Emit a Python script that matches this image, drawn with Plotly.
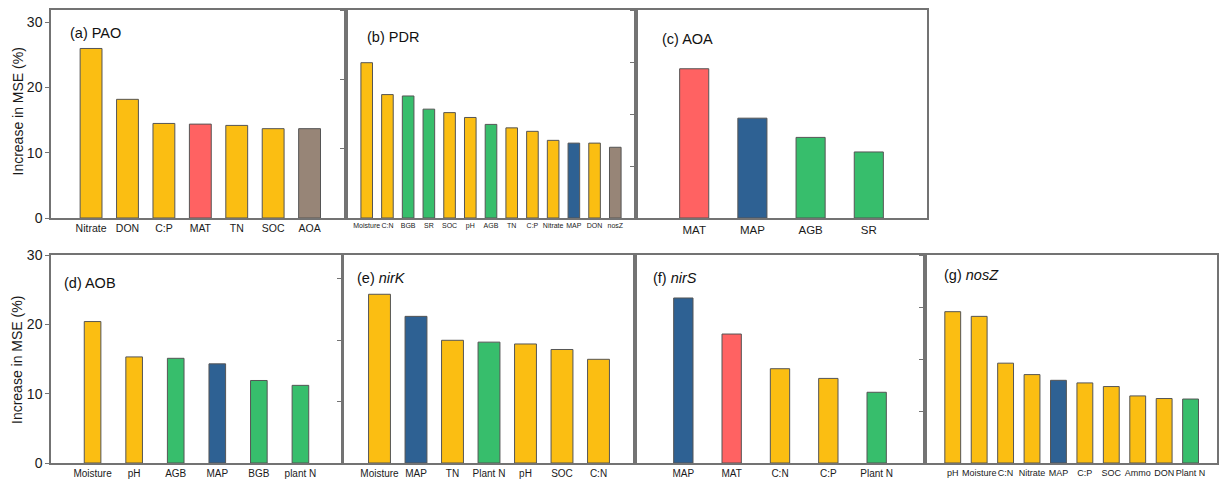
import plotly.graph_objects as go

# ---------------- data ----------------
pao_vars = ["Nitrate", "DON", "C:P", "MAT", "TN", "SOC", "AOA"]
pao_vals = [26.0, 18.2, 14.5, 14.4, 14.2, 13.7, 13.7]

pdr_vars = ["Moisture", "C:N", "BGB", "SR", "SOC", "pH", "AGB", "TN", "C:P", "Nitrate", "MAP", "DON", "nosZ"]
pdr_vals = [22.4, 17.8, 17.6, 15.7, 15.2, 14.5, 13.5, 13.0, 12.5, 11.2, 10.8, 10.8, 10.2]

aoa_vars = ["MAT", "MAP", "AGB", "SR"]
aoa_vals = [28.7, 19.2, 15.5, 12.7]

aob_vars = ["Moisture", "pH", "AGB", "MAP", "BGB", "plant N"]
aob_vals = [20.4, 15.3, 15.1, 14.3, 11.9, 11.2]

nirk_vars = ["Moisture", "MAP", "TN", "Plant N", "pH", "SOC", "C:N"]
nirk_vals = [27.5, 23.9, 20.0, 19.7, 19.4, 18.5, 16.9]

nirs_vars = ["MAP", "MAT", "C:N", "C:P", "Plant N"]
nirs_vals = [23.8, 18.6, 13.6, 12.2, 10.2]

nosz_vars = ["pH", "Moisture", "C:N", "Nitrate", "MAP", "C:P", "SOC", "Ammo", "DON", "Plant N"]
nosz_vals = [29.1, 28.2, 19.2, 17.0, 15.9, 15.4, 14.7, 12.9, 12.4, 12.3]

# variable group (encoded by colour)
var_group = {
    "Nitrate": "soil", "DON": "soil", "C:P": "soil", "TN": "soil", "SOC": "soil",
    "Moisture": "soil", "C:N": "soil", "pH": "soil", "Ammo": "soil",
    "MAT": "temperature", "MAP": "precipitation",
    "AGB": "plant", "BGB": "plant", "SR": "plant", "Plant N": "plant", "plant N": "plant",
    "AOA": "microbe", "nosZ": "microbe",
}

# ---------------- style ----------------
group_color = {
    "soil": "#FBBE12",
    "temperature": "#FF6262",
    "precipitation": "#2E6193",
    "plant": "#37BE6C",
    "microbe": "#978577",
}
W, H = 1219, 483
FONT = "Arial, Liberation Sans, sans-serif"
AXC = "#737373"

def px_x(p):
    return p / W

def px_y(p):
    return 1 - p / H

TOP = (10, 218)
BOT = (255, 463)

panels = [
    dict(title="(a) PAO", cats=pao_vars, vals=pao_vals, xs=(51, 346), ys=TOP, yr=[0, 31.9],
         xr=[-1.1, 7.0], bw=0.6, fs=10.5, ylab=True, yticks=True, tpos=(68, 33)),
    dict(title="(b) PDR", cats=pdr_vars, vals=pdr_vals, xs=(346, 636), ys=TOP, yr=[0, 30],
         xr=[-1, 13], bw=0.56, fs=7, ylab=False, yticks=True, tpos=(365, 37)),
    dict(title="(c) AOA", cats=aoa_vars, vals=aoa_vals, xs=(636, 927), ys=TOP, yr=[0, 40],
         xr=[-1, 4], bw=0.5, fs=11.5, ylab=False, yticks=True, tpos=(660, 39)),
    dict(title="(d) AOB", cats=aob_vars, vals=aob_vals, xs=(51, 342), ys=BOT, yr=[0, 30],
         xr=[-1, 6], bw=0.4, fs=10, ylab=True, yticks=True, tpos=(62, 283)),
    dict(title="(e) <i>nirK</i>", cats=nirk_vars, vals=nirk_vals, xs=(343, 635), ys=BOT, yr=[0, 33.9],
         xr=[-1, 7], bw=0.6, fs=10, ylab=False, yticks=True, tpos=(355, 278)),
    dict(title="(f) <i>nirS</i>", cats=nirs_vars, vals=nirs_vals, xs=(635, 925), ys=BOT, yr=[0, 30],
         xr=[-1, 5], bw=0.4, fs=10, ylab=False, yticks=False, tpos=(651, 278)),
    dict(title="(g) <i>nosZ</i>", cats=nosz_vars, vals=nosz_vals, xs=(925, 1217), ys=BOT, yr=[0, 40],
         xr=[-1.05, 10], bw=0.6, fs=9, ylab=False, yticks=True, tpos=(942, 275)),
]

fig = go.Figure()
annotations = []
for i, p in enumerate(panels):
    n = "" if i == 0 else str(i + 1)
    fig.add_trace(go.Bar(
        x=p["cats"], y=p["vals"],
        xaxis="x" + n, yaxis="y" + n,
        width=p["bw"],
        marker=dict(color=[group_color[var_group[c]] for c in p["cats"]],
                    line=dict(color="#555555", width=1)),
        showlegend=False, hoverinfo="x+y",
    ))
    fig.layout["xaxis" + n] = dict(
        domain=[px_x(p["xs"][0]), px_x(p["xs"][1])],
        anchor="y" + n, type="category", range=p["xr"],
        showline=True, mirror=True, linecolor=AXC, linewidth=1.5,
        ticks="", showgrid=False, zeroline=False, automargin=False, tickangle=0,
        tickfont=dict(family=FONT, size=p["fs"], color="#1a1a1a"),
        fixedrange=True,
    )
    fig.layout["yaxis" + n] = dict(
        domain=[px_y(p["ys"][1]), px_y(p["ys"][0])],
        anchor="x" + n, range=p["yr"], dtick=10, tick0=0,
        showline=True, mirror=True, linecolor=AXC, linewidth=1.5,
        ticks="outside" if p["yticks"] else "", ticklen=4, tickcolor=AXC, tickwidth=1,
        showticklabels=p["ylab"], showgrid=False, zeroline=False, automargin=False,
        tickfont=dict(family=FONT, size=14, color="#1a1a1a"),
        fixedrange=True,
    )
    annotations.append(dict(
        text=p["title"], xref="paper", yref="paper",
        x=px_x(p["tpos"][0]), y=px_y(p["tpos"][1]),
        xanchor="left", yanchor="middle", showarrow=False,
        bgcolor="white",
        font=dict(family=FONT, size=14.5, color="#111111"),
    ))

for yc in (111.5, 360):
    annotations.append(dict(
        text="Increase in MSE (%)", xref="paper", yref="paper",
        x=px_x(17), y=px_y(yc), xanchor="center", yanchor="middle",
        textangle=-90, showarrow=False,
        font=dict(family=FONT, size=14, color="#1a1a1a"),
    ))

fig.update_layout(
    width=W, height=H,
    margin=dict(l=0, r=0, t=0, b=0, pad=0),
    paper_bgcolor="white", plot_bgcolor="white",
    annotations=annotations,
    bargap=0.4,
)

fig.write_html(
    "out.html",
    config={"displayModeBar": False, "responsive": False},
    post_script="document.body.style.margin='0';document.body.style.overflow='hidden';",
)
